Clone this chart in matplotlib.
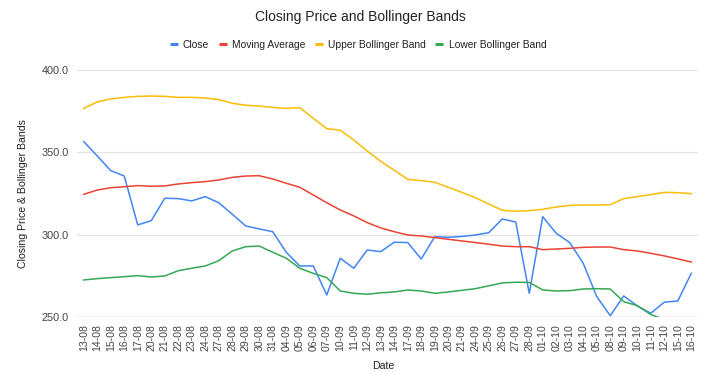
import matplotlib
matplotlib.use("Agg")
import matplotlib.pyplot as plt
from matplotlib.lines import Line2D

plt.rcParams['font.family'] = ['Liberation Sans', 'DejaVu Sans']

dates = ["13-08", "14-08", "15-08", "16-08", "17-08", "20-08", "21-08", "22-08", "23-08", "24-08",
         "27-08", "28-08", "29-08", "30-08", "31-08", "04-09", "05-09", "06-09", "07-09", "10-09",
         "11-09", "12-09", "13-09", "14-09", "17-09", "18-09", "19-09", "20-09", "21-09", "24-09",
         "25-09", "26-09", "27-09", "28-09", "01-10", "02-10", "03-10", "04-10", "05-10", "08-10",
         "09-10", "10-10", "11-10", "12-10", "15-10", "16-10"]

close = [356.5, 347.8, 338.9, 335.6, 305.9, 308.5, 322.1, 321.9, 320.5, 323.1,
         319.4, 312.4, 305.3, 303.5, 301.8, 289.3, 281.0, 281.0, 263.4, 285.7,
         279.6, 290.7, 289.7, 295.4, 295.2, 285.2, 298.8, 298.4, 298.9, 299.8,
         301.2, 309.5, 307.7, 264.4, 310.9, 300.8, 295.2, 282.6, 262.4, 250.8,
         262.8, 256.7, 252.3, 259.0, 259.7, 276.5]

moving_avg = [324.5, 327.1, 328.5, 329.1, 329.8, 329.4, 329.6, 330.8, 331.6, 332.2,
              333.2, 334.8, 335.6, 335.8, 333.8, 331.2, 328.8, 324.1, 319.4, 315.0,
              311.4, 307.3, 304.1, 301.8, 299.8, 299.2, 298.2, 297.2, 296.2, 295.2,
              294.2, 293.1, 292.7, 292.7, 290.9, 291.3, 291.7, 292.3, 292.5, 292.5,
              290.9, 290.1, 288.7, 287.1, 285.3, 283.4]

upper_band = [376.7, 380.6, 382.4, 383.4, 384.0, 384.2, 384.0, 383.4, 383.4, 383.0,
              382.0, 379.8, 378.6, 378.1, 377.3, 376.7, 377.1, 370.7, 364.4, 363.4,
              357.5, 350.8, 344.5, 339.1, 333.6, 332.8, 331.8, 328.8, 325.7, 322.5,
              318.6, 314.8, 314.2, 314.6, 315.4, 316.8, 317.8, 318.0, 318.0, 318.2,
              321.9, 323.1, 324.3, 325.7, 325.5, 324.9]

lower_band = [272.5, 273.3, 273.9, 274.5, 275.1, 274.3, 274.9, 278.1, 279.6, 281.0,
              284.2, 290.1, 292.7, 293.1, 289.3, 285.7, 279.6, 276.5, 273.9, 265.8,
              264.4, 263.8, 264.7, 265.2, 266.4, 265.8, 264.4, 265.2, 266.2, 267.2,
              268.9, 270.7, 271.1, 271.0, 266.4, 265.8, 266.0, 267.0, 267.2, 267.0,
              259.3, 256.9, 251.5, 248.5, 245.1, 241.9]

y_ticks = [250, 300, 350, 400]

series = [("Close", close, "#4285F4"),
          ("Moving Average", moving_avg, "#EA4335"),
          ("Upper Bollinger Band", upper_band, "#FBBC04"),
          ("Lower Bollinger Band", lower_band, "#34A853")]

fig = plt.figure(figsize=(7.2, 3.78), dpi=100)
ax_w = 698 - 77
ax_h = 317 - 70
ax = fig.add_axes([77/720, 1 - 317/378, ax_w/720, ax_h/378])

x = list(range(len(dates)))
for name, vals, col in series:
    ax.plot(x, vals, color=col, lw=1.1, label=name, solid_joinstyle='round')

ax.set_xlim(-0.5, len(dates) - 0.5)
ax.set_ylim(250, 400)
ax.set_yticks(y_ticks)
ax.set_yticklabels([f"{v:.1f}" for v in y_ticks])
ax.set_xticks(x)
ax.set_xticklabels(dates, rotation=90)
ax.tick_params(axis='y', length=0, labelsize=7.8, colors='#444444', pad=6)
ax.tick_params(axis='x', length=0, labelsize=7.6, colors='#444444', pad=5)
ax.grid(axis='y', color='#e3e3e3', lw=0.9)
ax.set_axisbelow(True)
for s in ax.spines.values():
    s.set_visible(False)
ax.axhline(250, color='#cccccc', lw=1.0, zorder=0.5)

ax.set_ylabel("Closing Price & Bollinger Bands", fontsize=7.6, color='#222222')
ax.yaxis.set_label_coords((28 - 77)/ax_w, 0.5)
ax.set_xlabel("Date", fontsize=7.6, color='#222222')
ax.xaxis.set_label_coords((383 - 77)/ax_w, -(361 - 317)/ax_h)

fig.text(0.5, 1 - 17/378, "Closing Price and Bollinger Bands", ha='center', va='center',
         fontsize=10, color='#222222')

handles = [Line2D([0], [0], color=c, lw=2.2, solid_capstyle='butt') for _, _, c in series]
fig.legend(handles, [n for n, _, _ in series], loc='center', bbox_to_anchor=(358/720, 1 - 45/378),
           ncol=4, frameon=False, fontsize=7.35, handlelength=0.78, handletextpad=0.5,
           columnspacing=0.95, labelcolor='#222222')

fig.savefig("out.png", dpi=100, facecolor='white')
